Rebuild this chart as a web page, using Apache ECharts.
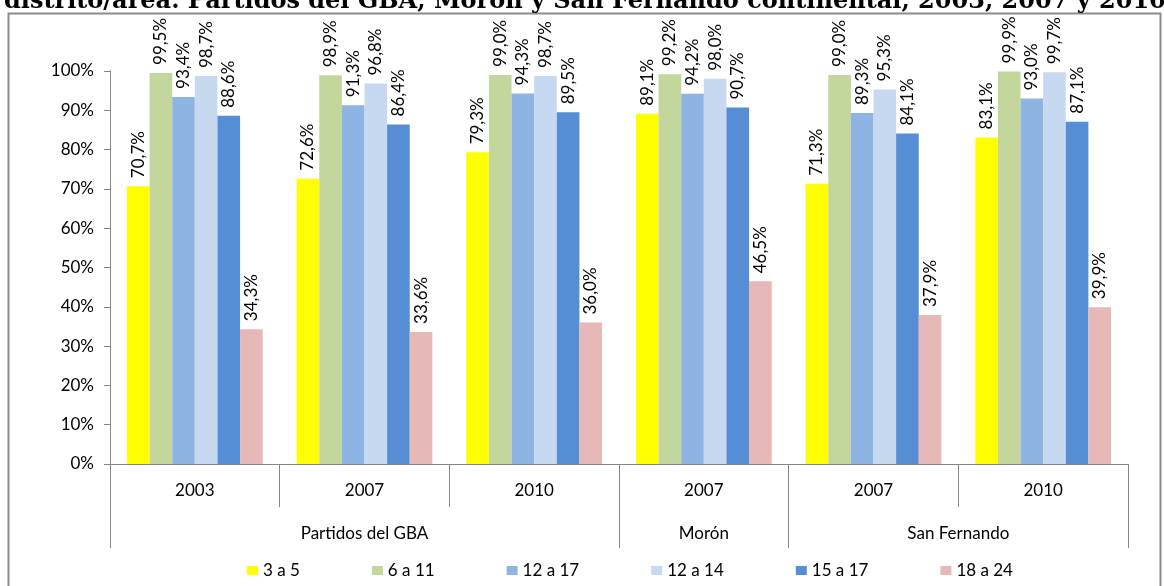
<!DOCTYPE html>
<html>
<head>
<meta charset="utf-8">
<script src="https://cdn.jsdelivr.net/npm/echarts@6/dist/echarts.min.js"></script>
<style>
html,body{margin:0;padding:0;background:#fff;}
#chart{width:1164px;height:586px;}
</style>
</head>
<body>
<div id="chart"></div>
<script>
const titleText = 'distrito/área. Partidos del GBA, Morón y San Fernando continental, 2003, 2007 y 2010';
const years = ['2003', '2007', '2010', '2007', '2007', '2010'];
const regions = ['Partidos del GBA', 'Morón', 'San Fernando'];
const regionSpans = [3, 1, 2];

const seriesNames = ['3 a 5', '6 a 11', '12 a 17', '12 a 14', '15 a 17', '18 a 24'];
const s3a5   = [70.7, 72.6, 79.3, 89.1, 71.3, 83.1];
const s6a11  = [99.5, 98.9, 99.0, 99.2, 99.0, 99.9];
const s12a17 = [93.4, 91.3, 94.3, 94.2, 89.3, 93.0];
const s12a14 = [98.7, 96.8, 98.7, 98.0, 95.3, 99.7];
const s15a17 = [88.6, 86.4, 89.5, 90.7, 84.1, 87.1];
const s18a24 = [34.3, 33.6, 36.0, 46.5, 37.9, 39.9];
const seriesData = [s3a5, s6a11, s12a17, s12a14, s15a17, s18a24];
const colors = ['#FFFF00', '#C3D69B', '#8EB4E3', '#C6D9F1', '#558ED5', '#E6B9B8'];

// region boundaries and centers in category units
const bounds = [0];
const centers = [];
regionSpans.forEach((s, i) => { centers.push(bounds[i] + s / 2); bounds.push(bounds[i] + s); });

const FONT = 'Lato';
const chart = echarts.init(document.getElementById('chart'));
chart.setOption({
  animation: false,
  color: colors,
  textStyle: { fontFamily: FONT },
  title: {
    text: titleText,
    left: -1, top: -17,
    textStyle: { fontFamily: 'DejaVu Serif', fontWeight: 'bold', fontSize: 24, color: '#000', lineHeight: 27 }
  },
  graphic: [{
    type: 'rect', silent: true, z: -1,
    shape: { x: 8.5, y: 13.5, width: 1152, height: 600 },
    style: { fill: 'none', stroke: '#8c8c8c', lineWidth: 2 }
  }],
  grid: { left: 110, right: 36, top: 71, bottom: 122 },
  legend: {
    bottom: 2, left: 242,
    icon: 'rect', itemWidth: 11, itemHeight: 9, itemGap: 72,
    data: seriesNames,
    textStyle: { fontFamily: FONT, fontSize: 17, color: '#000' }
  },
  xAxis: [{
    type: 'category', data: years, position: 'bottom',
    axisLine: { lineStyle: { color: '#868686', width: 1 } },
    axisTick: { show: true, interval: 0, length: 43, lineStyle: { color: '#868686' } },
    axisLabel: { interval: 0, margin: 18, fontFamily: FONT, fontSize: 17, color: '#000' }
  }, {
    type: 'value', position: 'bottom', min: 0, max: years.length,
    axisLine: { show: false },
    splitLine: { show: false },
    axisTick: { show: true, customValues: bounds, length: 84, lineStyle: { color: '#868686' } },
    axisLabel: {
      customValues: centers, margin: 61, fontFamily: FONT, fontSize: 17, color: '#000',
      formatter: v => { const i = centers.indexOf(v); return i >= 0 ? regions[i] : ''; }
    }
  }],
  yAxis: {
    type: 'value', min: 0, max: 100, interval: 10,
    axisLine: { show: true, lineStyle: { color: '#868686' } },
    axisTick: { show: true, length: 6, lineStyle: { color: '#868686' } },
    splitLine: { show: false },
    axisLabel: { formatter: '{value}%', margin: 16, fontFamily: FONT, fontSize: 17, color: '#000' }
  },
  series: seriesNames.map((n, i) => ({
    name: n, type: 'bar', xAxisIndex: 0,
    data: seriesData[i],
    barGap: '0%', barCategoryGap: '20%',
    label: {
      show: true, position: 'top', rotate: 90, align: 'left', verticalAlign: 'middle', distance: 8,
      fontFamily: FONT, fontSize: 17, color: '#000',
      formatter: p => p.value.toFixed(1).replace('.', ',') + '%'
    }
  }))
});
</script>
</body>
</html>
